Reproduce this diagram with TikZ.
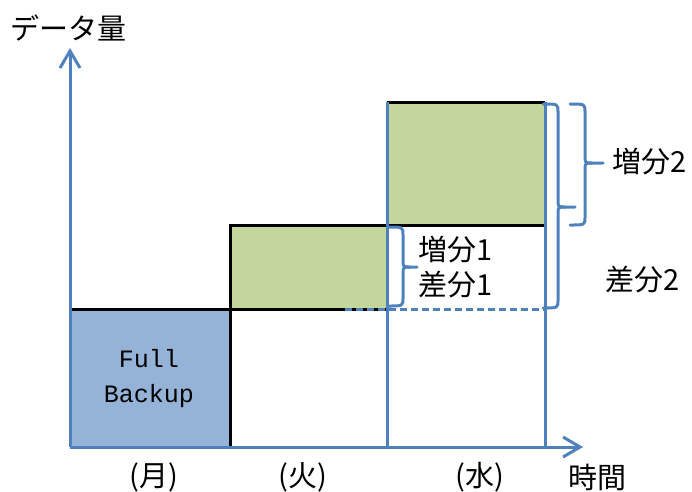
\documentclass[tikz,border=0pt]{standalone}
\usepackage{fontspec}
\setmainfont{Noto Sans CJK JP}
\newfontfamily\backupfont{Liberation Mono}
\usetikzlibrary{arrows.meta}
\definecolor{axisblue}{HTML}{4F81BD}
\definecolor{fullblue}{HTML}{95B3D7}
\definecolor{incgreen}{HTML}{C3D69B}
\begin{document}
\begin{tikzpicture}[x=1pt,y=-1pt,
  axisline/.style={draw=axisblue, line width=3pt, -{Straight Barb[length=17pt,width=20pt,line width=3pt]}},
  blackline/.style={draw=black, line width=3pt},
  blueline/.style={draw=axisblue, line width=3pt},
  braceline/.style={draw=axisblue, line width=3pt, line join=round, line cap=round},
  dashline/.style={draw=axisblue, line width=3pt, dash pattern=on 7pt off 4pt},
  lbl/.style={inner sep=0pt, font=\fontsize{29}{34}\selectfont},
  fulltxt/.style={inner sep=0pt, align=center, font=\backupfont\fontsize{25}{35}\selectfont}
]
\useasboundingbox (0,0) rectangle (692,491);
% fills
\fill[fullblue] (70,309) rectangle (230,447);
\fill[incgreen] (230,225) rectangle (387,309);
\fill[incgreen] (387,102) rectangle (545,225);
% black outlines
\draw[blackline] (70,309) -- (387,309);
\draw[blackline] (230,447) -- (230,225) -- (545,225);
\draw[blackline] (387,102) -- (545,102);
% blue verticals
\draw[blueline] (387,102) -- (387,447);
\draw[blueline] (545,102) -- (545,447);
% dashed line
\draw[dashline] (345,309) -- (545,309);
% axes
\coordinate (O) at (70,447);
\coordinate (ytip) at (70,48);
\coordinate (xtip) at (583,447);
\draw[axisline] (O) -- (ytip);
\draw[axisline] (O) -- (xtip);
% braces
% small brace (増分1/差分1)
\draw[braceline] (388,227) .. controls (403,227) .. (403,235) -- (403,259)
  .. controls (403,267) .. (410,267) -- (417,267);
\draw[braceline] (410,267) .. controls (403,267) .. (403,275) -- (403,298)
  .. controls (403,306) .. (388,306);
% big brace (差分2)
\draw[braceline] (543,104) .. controls (558,104) .. (558,112) -- (558,199)
  .. controls (558,207) .. (565,207) -- (575,207);
\draw[braceline] (565,207) .. controls (558,207) .. (558,215) -- (558,300)
  .. controls (558,308) .. (543,308);
% brace 増分2
\draw[braceline] (570,104) .. controls (585,104) .. (585,112) -- (585,155)
  .. controls (585,163) .. (592,163) -- (603,163);
\draw[braceline] (592,163) .. controls (585,163) .. (585,171) -- (585,217)
  .. controls (585,225) .. (570,225);
% texts
\node[lbl] (ylab) at (68,28) {データ量};
\node[lbl] (xlab) at (597,477) {時間};
\node[lbl] (mon) at (154,477) {(月)};
\node[lbl] (tue) at (303,477) {(火)};
\node[lbl] (wed) at (480,477) {(水)};
\node[lbl] (inc1) at (456,250) {増分1};
\node[lbl] (dif1) at (456,285) {差分1};
\node[lbl] (inc2) at (650,162) {増分2};
\node[lbl] (dif2) at (643,280) {差分2};
\node[fulltxt] (full) at (149,379) {Full\\Backup};
\end{tikzpicture}
\end{document}
